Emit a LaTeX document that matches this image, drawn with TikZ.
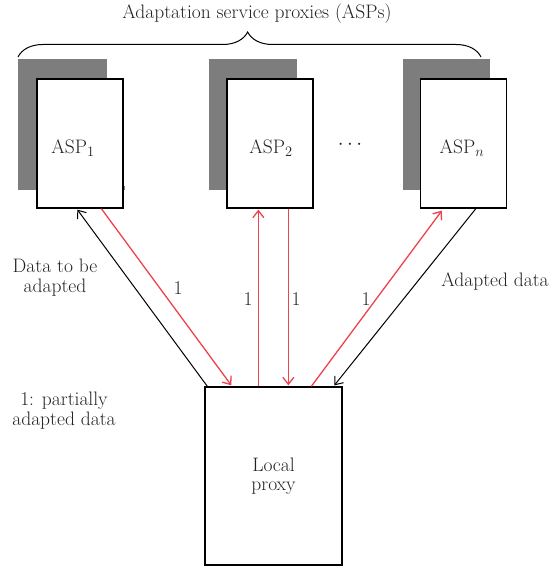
\documentclass[tikz,border=0pt]{standalone}
\usetikzlibrary{arrows.meta,decorations.pathreplacing}
\definecolor{txt}{RGB}{35,35,35}
\definecolor{redl}{RGB}{238,66,78}
\definecolor{shad}{RGB}{125,125,125}
\tikzset{
  every node/.style={text=txt, font=\fontsize{19.5}{22}\selectfont},
  aspbox/.style={draw=black, line width=1.3pt, fill=white, minimum width=86pt, minimum height=129pt, inner sep=0pt},
  proxybox/.style={draw=black, line width=1.3pt, fill=white, minimum width=137pt, minimum height=178pt, inner sep=0pt, align=center},
  shadowbox/.style={fill=shad, draw=none},
  blk/.style={draw=black, line width=1pt, -{Straight Barb[length=7pt,width=11pt]}},
  rd/.style={draw=redl, line width=1.3pt, -{Straight Barb[length=7pt,width=11pt]}},
  lbl/.style={align=center, inner sep=0pt},
}
\begin{document}
\begin{tikzpicture}[x=1pt,y=-1pt]
\useasboundingbox (0,0) rectangle (554,569);
% shadows
\fill[shadowbox] (18,59) rectangle (107,190);
\fill[shadowbox] (107,186) rectangle (125,190);
\fill[shadowbox] (209,59) rectangle (297,190);
\fill[shadowbox] (403,59) rectangle (490,190);
% boxes
\node[aspbox] (asp1) at (80,143.5) {};
\node[aspbox] (asp2) at (270,143.5) {};
\node[aspbox] (aspn) at (463.5,143.5) {};
\node[lbl] (t1) at (73,148) {ASP$_1$};
\node[lbl] (t2) at (271,148) {ASP$_2$};
\node[lbl] (tn) at (462,148) {ASP$_n$};
\node[lbl] (dots) at (350,145) {$\cdots$};
\node[proxybox] (proxy) at (273.5,476) {Local\\[-3pt]proxy};
% brace
\draw[line width=1pt, decorate, decoration={brace, amplitude=25pt, aspect=0.496}] (18,57) -- (481,57);
\node[lbl] (title) at (257,14) {Adaptation service proxies (ASPs)};
% connectors
\draw[blk] ([xshift=3pt]proxy.north west) -- ([xshift=41pt,yshift=-1pt]asp1.south west);
\draw[rd] ([xshift=65pt]asp1.south west) -- ([xshift=27pt,yshift=1pt]proxy.north west);
\draw[rd] ([xshift=54pt]proxy.north west) -- ([xshift=32pt,yshift=-1pt]asp2.south west);
\draw[rd] ([xshift=62pt]asp2.south west) -- ([xshift=84pt,yshift=1pt]proxy.north west);
\draw[rd] ([xshift=107pt]proxy.north west) -- ([xshift=22pt,yshift=-2pt]aspn.south west);
\draw[blk] ([xshift=56pt]aspn.south west) -- ([xshift=130pt,yshift=1pt]proxy.north west);
% labels
\node[lbl] (l1) at (55,278) {Data to be\\[-2pt]adapted};
\node[lbl] (l2) at (495,282) {Adapted data};
\node[lbl] (l3) at (64,411) {1: partially\\[-2pt]adapted data};
\node[lbl] (n1) at (178,288) {1};
\node[lbl] (n2) at (248,299) {1};
\node[lbl] (n3) at (296,299) {1};
\node[lbl] (n4) at (366,299) {1};
\end{tikzpicture}
\end{document}
